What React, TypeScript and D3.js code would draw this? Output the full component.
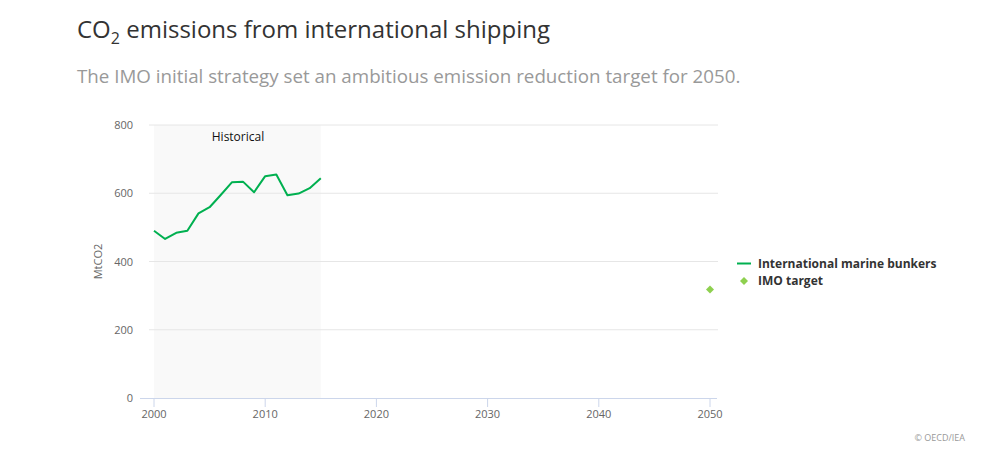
import React from "react";
import * as d3 from "d3";

const years = [2000, 2001, 2002, 2003, 2004, 2005, 2006, 2007, 2008, 2009, 2010, 2011, 2012, 2013, 2014, 2015];
const bunkers = [490, 466, 484, 490, 541, 559, 595, 632, 634, 603, 650, 655, 594, 599, 615, 644];
const targetYears = [2050];
const targetValues = [318];
const xTicks = [2000, 2010, 2020, 2030, 2040, 2050];
const yTicks = [0, 200, 400, 600, 800];
const historicalRange = [2000, 2015];

const W = 983;
const H = 471;
const FONT = "'Open Sans', 'Noto Sans', sans-serif";

const diamondPath = (r: number) => {
  const p = d3.path();
  p.moveTo(0, -r);
  p.lineTo(r, 0);
  p.lineTo(0, r);
  p.lineTo(-r, 0);
  p.closePath();
  return p.toString();
};

export default function App() {
  const x = d3.scaleLinear().domain([2000, 2050]).range([154, 710]);
  const y = d3.scaleLinear().domain([0, 800]).range([398, 125]);
  const line = d3
    .line<number>()
    .x((_, i) => x(years[i]))
    .y((d) => y(d));
  const diamond = diamondPath(4);

  return (
    <svg width={W} height={H} style={{ position: "absolute", left: 0, top: 0, fontFamily: FONT }}>
      <rect x={0} y={0} width={W} height={H} fill="#fff" />
      <text x={77} y={38} fontSize={24} fill="#333">
        CO<tspan fontSize={16} dy={6}>2</tspan>
        <tspan dy={-6}> emissions from international shipping</tspan>
      </text>
      <text x={77} y={83} fontSize={18.75} fill="#999">
        The IMO initial strategy set an ambitious emission reduction target for 2050.
      </text>

      <rect
        x={x(historicalRange[0])}
        y={y(800)}
        width={x(historicalRange[1]) - x(historicalRange[0])}
        height={y(0) - y(800)}
        fill="#f9f9f9"
      />
      {yTicks.map((t) =>
        t === 0 ? null : (
          <line key={t} x1={149} x2={718} y1={y(t)} y2={y(t)} stroke="#e6e6e6" strokeWidth={1} />
        )
      )}
      {yTicks.map((t) => (
        <text key={"yl" + t} x={133} y={y(t) + 4} fontSize={11} fill="#666" textAnchor="end">
          {t}
        </text>
      ))}
      <text
        transform={`translate(102,${y(400)}) rotate(-90)`}
        fontSize={11}
        fill="#666"
        textAnchor="middle"
      >
        MtCO2
      </text>
      <line x1={140} x2={717} y1={398.5} y2={398.5} stroke="#ccd6eb" strokeWidth={1} />
      {xTicks.map((t) => (
        <g key={"xt" + t}>
          <line x1={x(t)} x2={x(t)} y1={398} y2={407} stroke="#ccd6eb" strokeWidth={1} />
          <text x={x(t)} y={418} fontSize={11} fill="#666" textAnchor="middle">
            {t}
          </text>
        </g>
      ))}
      <text x={238} y={141} fontSize={12} fill="#111" textAnchor="middle">
        Historical
      </text>
      <path d={line(bunkers) || ""} fill="none" stroke="#00b050" strokeWidth={2} strokeLinejoin="round" />
      {targetYears.map((yr, i) => (
        <path key={"t" + i} d={diamond} transform={`translate(${x(yr)},${y(targetValues[i])})`} fill="#8ed04f" />
      ))}

      <line x1={737} x2={751} y1={263.5} y2={263.5} stroke="#00b050" strokeWidth={2} />
      <text x={758} y={268} fontSize={12} fontWeight="bold" fill="#333">
        International marine bunkers
      </text>
      <path d={diamond} transform="translate(744,281)" fill="#8ed04f" />
      <text x={758} y={285} fontSize={12} fontWeight="bold" fill="#333">
        IMO target
      </text>

      <text x={965} y={441} fontSize={9} fill="#999" textAnchor="end">
        © OECD/IEA
      </text>
    </svg>
  );
}
